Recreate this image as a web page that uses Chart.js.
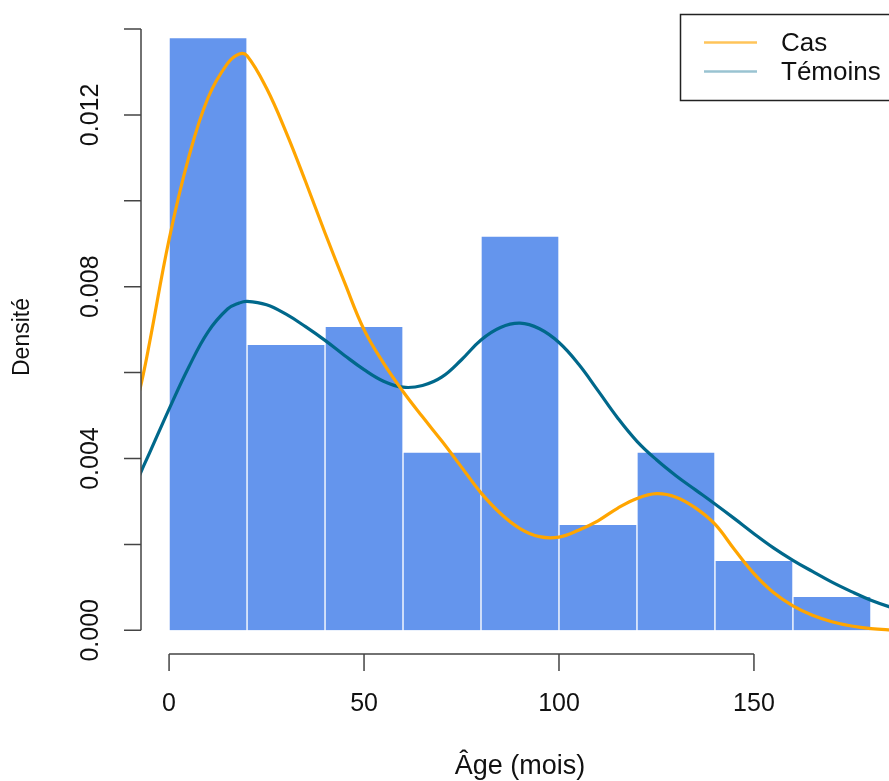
<!DOCTYPE html>
<html><head><meta charset="utf-8">
<script src="https://cdn.jsdelivr.net/npm/chart.js@4"></script>
<style>html,body{margin:0;padding:0;overflow:hidden;background:#fff}canvas{display:block}</style>
</head><body>
<canvas id="c" width="899" height="781" style="width:899px;height:781px"></canvas>
<script>
// Histogram (bins of 20 months)
const binMids = [10, 30, 50, 70, 90, 110, 130, 150, 170];
const binDensity = [0.0138, 0.00666, 0.00708, 0.00415, 0.00918, 0.00247, 0.00415, 0.00163, 0.00079];

// Density curves
const curveX = [-10, -7, -5, 0, 5, 10, 15, 18, 20, 25, 30, 35, 40, 45, 50, 55, 60, 65, 70, 75, 80, 85, 90, 95, 100,
  105, 110, 115, 120, 125, 130, 135, 140, 145, 150, 155, 160, 165, 170, 175, 180, 185, 188];
const casDensity = [0.0047, 0.0058, 0.0067, 0.0091, 0.0110, 0.0124, 0.0132, 0.01342, 0.01338, 0.01262, 0.0116, 0.01045,
  0.00925, 0.0081, 0.007, 0.00622, 0.00556, 0.00497, 0.0044, 0.0038, 0.0032, 0.00272, 0.00237, 0.00218, 0.00217,
  0.00233, 0.00255, 0.00284, 0.00307, 0.00318, 0.0031, 0.00285, 0.00247, 0.00188, 0.00132, 0.00088, 0.00057,
  0.00035, 0.0002, 0.0001, 0.00004, 0.00001, 0.0];
const temoinsDensity = [0.0031, 0.00373, 0.00413, 0.00515, 0.00612, 0.00695, 0.00748, 0.00762, 0.00766, 0.00758, 0.00736,
  0.00707, 0.00675, 0.0064, 0.00607, 0.0058, 0.00566, 0.0057, 0.0059, 0.0063, 0.00676, 0.00705, 0.00715, 0.00702,
  0.0067, 0.0062, 0.00558, 0.00495, 0.0044, 0.00397, 0.0036, 0.00327, 0.00294, 0.0026, 0.00225, 0.00192, 0.00163,
  0.00137, 0.00112, 0.0009, 0.0007, 0.00054, 0.00047];

// Axes
const xTicks = [0, 50, 100, 150];
const xTickLabels = ['0', '50', '100', '150'];
const yTicks = [0, 0.002, 0.004, 0.006, 0.008, 0.010, 0.012, 0.014];
const yTickLabels = ['0.000', '', '0.004', '', '0.008', '', '0.012', ''];
const xTitle = 'Âge (mois)';
const yTitle = 'Densité';
const seriesNames = ['Cas', 'Témoins'];
const seriesColors = ['#FFA500', '#00688B'];
const legendColors = ['rgba(255,165,0,0.65)', 'rgba(0,104,139,0.4)'];

const FONT = '"Liberation Sans", Arial, Helvetica, sans-serif';

const rAxes = {
  id: 'rAxes',
  afterDatasetsDraw(chart) {
    const {ctx, chartArea: ca, scales: {x, y}} = chart;
    ctx.save();
    ctx.strokeStyle = '#444';
    ctx.lineWidth = 1.5;
    ctx.fillStyle = '#111';
    ctx.font = '25px ' + FONT;
    // Y axis
    const ax = ca.left;
    ctx.beginPath();
    ctx.moveTo(ax, y.getPixelForValue(yTicks[0]));
    ctx.lineTo(ax, y.getPixelForValue(yTicks[yTicks.length - 1]));
    yTicks.forEach(v => {
      const py = y.getPixelForValue(v);
      ctx.moveTo(ax, py); ctx.lineTo(ax - 17, py);
    });
    ctx.stroke();
    ctx.textAlign = 'center';
    ctx.textBaseline = 'middle';
    yTicks.forEach((v, i) => {
      if (!yTickLabels[i]) return;
      const py = y.getPixelForValue(v);
      ctx.save(); ctx.translate(91, py); ctx.rotate(-Math.PI / 2);
      ctx.fillText(yTickLabels[i], 0, 0); ctx.restore();
    });
    // X axis
    const ay = ca.bottom;
    ctx.beginPath();
    ctx.moveTo(x.getPixelForValue(xTicks[0]), ay);
    ctx.lineTo(x.getPixelForValue(xTicks[xTicks.length - 1]), ay);
    xTicks.forEach(v => {
      const px = x.getPixelForValue(v);
      ctx.moveTo(px, ay); ctx.lineTo(px, ay + 17);
    });
    ctx.stroke();
    xTicks.forEach((v, i) => {
      ctx.fillText(xTickLabels[i], x.getPixelForValue(v), 704);
    });
    // Titles
    ctx.font = '27px ' + FONT;
    ctx.fillText(xTitle, 520, 767);
    ctx.save(); ctx.translate(23, 337); ctx.rotate(-Math.PI / 2);
    ctx.font = '23px ' + FONT;
    ctx.fillText(yTitle, 0, 0); ctx.restore();
    // Legend
    ctx.fillStyle = '#fff';
    ctx.fillRect(680.5, 14.5, 300, 86);
    ctx.strokeStyle = '#222';
    ctx.lineWidth = 1.5;
    ctx.strokeRect(680.5, 14.5, 300, 86);
    ctx.font = '26px ' + FONT;
    ctx.textAlign = 'left';
    const ly = [42.5, 71.5];
    seriesNames.forEach((n, i) => {
      ctx.strokeStyle = legendColors[i];
      ctx.lineWidth = 2.5;
      ctx.beginPath(); ctx.moveTo(704, ly[i]); ctx.lineTo(757, ly[i]); ctx.stroke();
      ctx.fillStyle = '#111';
      ctx.fillText(n, 781, ly[i] + 1);
    });
    ctx.restore();
  }
};

new Chart(document.getElementById('c'), {
  type: 'bar',
  data: {
    datasets: [
      {
        type: 'line', label: seriesNames[0],
        data: curveX.map((v, i) => ({x: v, y: casDensity[i]})),
        borderColor: seriesColors[0], borderWidth: 3.2, pointRadius: 0,
        tension: 0.4, fill: false, order: 0
      },
      {
        type: 'line', label: seriesNames[1],
        data: curveX.map((v, i) => ({x: v, y: temoinsDensity[i]})),
        borderColor: seriesColors[1], borderWidth: 3.2, pointRadius: 0,
        tension: 0.4, fill: false, order: 1
      },
      {
        type: 'bar', label: 'hist',
        data: binMids.map((v, i) => ({x: v, y: binDensity[i]})),
        backgroundColor: '#6495ED', borderColor: '#ffffff', borderWidth: 1,
        categoryPercentage: 1.0, barPercentage: 1.0, order: 2
      }
    ]
  },
  options: {
    responsive: false,
    animation: false,
    events: [],
    layout: {padding: {left: 141, top: 14, right: 0, bottom: 127}},
    scales: {
      x: {type: 'linear', display: false, min: -7.2, max: 187.2, offset: false},
      y: {type: 'linear', display: false, min: -0.000552, max: 0.01435}
    },
    plugins: {legend: {display: false}, tooltip: {enabled: false}}
  },
  plugins: [rAxes]
});
</script>
</body></html>
